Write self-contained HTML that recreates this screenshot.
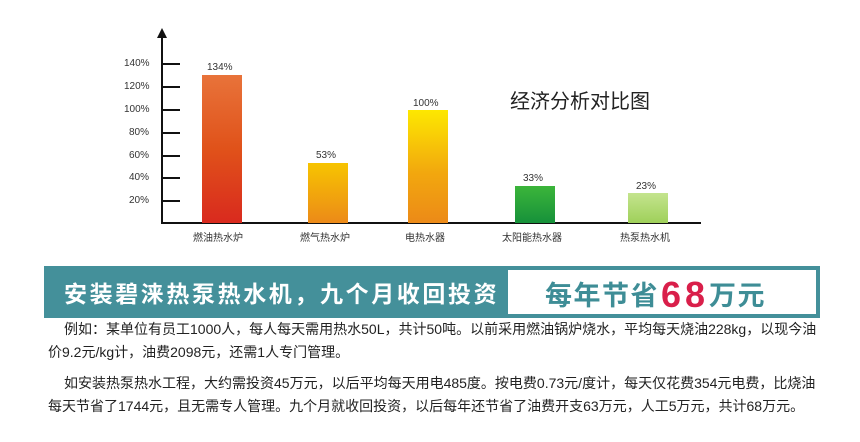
<!DOCTYPE html>
<html><head><meta charset="utf-8"><style>
body{margin:0;width:860px;height:442px;background:#fff;position:relative;overflow:hidden;font-family:"Liberation Sans","Noto Sans CJK SC",sans-serif}
.a{position:absolute;white-space:nowrap}
.t{font-size:10px;color:#333}
.bar{position:absolute;width:40px}
.p{font-size:14px;color:#222;position:absolute;white-space:nowrap;left:48px;letter-spacing:0px}
</style></head><body>
<div class="a" style="left:161px;top:36px;width:2px;height:188px;background:#111"></div>
<div class="a" style="left:157px;top:28px;width:0;height:0;border-left:5px solid transparent;border-right:5px solid transparent;border-bottom:10px solid #111"></div>
<div class="a" style="left:161px;top:222px;width:540px;height:2px;background:#111"></div>
<div class="a" style="left:162px;top:63px;width:18px;height:2px;background:#111"></div>
<div class="a" style="left:162px;top:86px;width:18px;height:2px;background:#111"></div>
<div class="a" style="left:162px;top:109px;width:18px;height:2px;background:#111"></div>
<div class="a" style="left:162px;top:132px;width:18px;height:2px;background:#111"></div>
<div class="a" style="left:162px;top:155px;width:18px;height:2px;background:#111"></div>
<div class="a" style="left:162px;top:177px;width:18px;height:2px;background:#111"></div>
<div class="a" style="left:162px;top:200px;width:18px;height:2px;background:#111"></div>
<div class="a t" style="left:124px;top:58px">140%</div>
<div class="a t" style="left:124px;top:81px">120%</div>
<div class="a t" style="left:124px;top:104px">100%</div>
<div class="a t" style="left:129px;top:127px">80%</div>
<div class="a t" style="left:129px;top:150px">60%</div>
<div class="a t" style="left:129px;top:172px">40%</div>
<div class="a t" style="left:129px;top:195px">20%</div>
<div class="bar" style="left:202px;top:75px;height:148px;background:linear-gradient(#e8733a,#e0521a 50%,#d92a1e)"></div>
<div class="bar" style="left:308px;top:163px;height:60px;background:linear-gradient(#f7c400,#ec8a18)"></div>
<div class="bar" style="left:408px;top:110px;height:113px;background:linear-gradient(#fde800,#f2a80e 55%,#ec8a18)"></div>
<div class="bar" style="left:515px;top:186px;height:37px;background:linear-gradient(#3cb53a,#16913a)"></div>
<div class="bar" style="left:628px;top:193px;height:30px;background:linear-gradient(#c4e48e,#9fd05a)"></div>
<div class="a t" style="left:207px;top:62px">134%</div>
<div class="a t" style="left:316px;top:150px">53%</div>
<div class="a t" style="left:413px;top:98px">100%</div>
<div class="a t" style="left:523px;top:173px">33%</div>
<div class="a t" style="left:636px;top:181px">23%</div>
<div class="a t" style="left:193px;top:229px">燃油热水炉</div>
<div class="a t" style="left:300px;top:229px">燃气热水炉</div>
<div class="a t" style="left:405px;top:229px">电热水器</div>
<div class="a t" style="left:502px;top:229px">太阳能热水器</div>
<div class="a t" style="left:620px;top:229px">热泵热水机</div>
<div class="a" style="left:510px;top:85px;font-size:20px;color:#222">经济分析对比图</div>
<div class="a" style="left:44px;top:266px;width:776px;height:52px;background:#44909a"></div>
<div class="a" style="left:508px;top:270px;width:308px;height:44px;background:#fff"></div>
<div class="a" style="left:64px;top:275px;font-size:23px;font-weight:bold;color:#fff;letter-spacing:2.6px">安装碧涞热泵热水机，九个月收回投资</div>
<div class="a" style="left:545px;top:272px;font-size:27px;font-weight:bold;color:#3e8d96;letter-spacing:1.5px">每年节省<span style="color:#d91f4a;font-size:36px;position:relative;top:2px;letter-spacing:4px;margin-left:2px">68</span>万元</div>
<div class="p" style="left:64px;top:319px">例如：某单位有员工1000人，每人每天需用热水50L，共计50吨。以前采用燃油锅炉烧水，平均每天烧油228kg，以现今油</div>
<div class="p" style="top:342px">价9.2元/kg计，油费2098元，还需1人专门管理。</div>
<div class="p" style="left:64px;top:373px">如安装热泵热水工程，大约需投资45万元，以后平均每天用电485度。按电费0.73元/度计，每天仅花费354元电费，比烧油</div>
<div class="p" style="top:396px">每天节省了1744元，且无需专人管理。九个月就收回投资，以后每年还节省了油费开支63万元，人工5万元，共计68万元。</div>
</body></html>
